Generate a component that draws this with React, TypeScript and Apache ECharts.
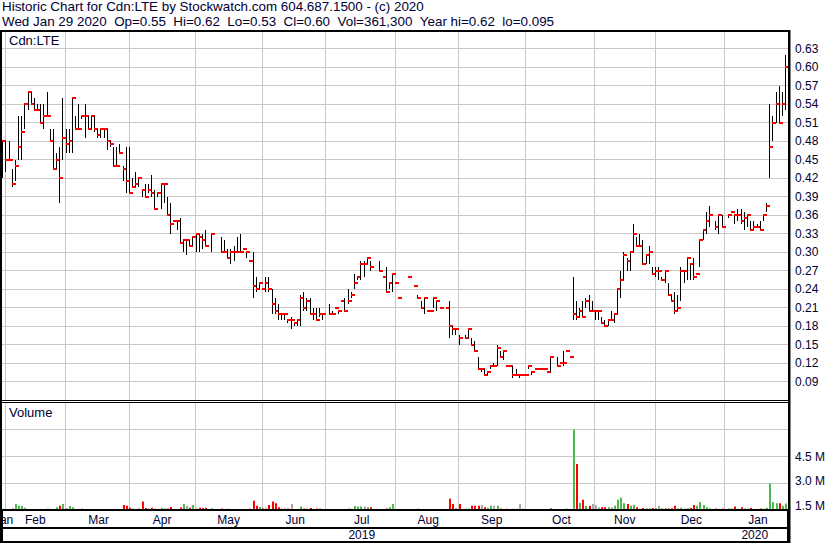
import React, { useEffect, useRef } from 'react';
import * as echarts from 'echarts';

type Bar = [number, number, number] | null; // [high, low, close], null = no trade

// ---- price bars per month (high, low, close) ----
const jan19: Bar[] = [[0.48, 0.42, 0.48]];
const feb19: Bar[] = [
  [0.48, 0.43, 0.45], [0.48, 0.45, 0.45], [0.435, 0.405, 0.41], [0.45, 0.415, 0.44], [0.52, 0.45, 0.47],
  [0.52, 0.45, 0.495], [0.54, 0.5, 0.54], [0.56, 0.53, 0.56], [0.56, 0.54, 0.54], [0.55, 0.53, 0.53],
  [0.54, 0.53, 0.53], [0.54, 0.51, 0.51], [0.54, 0.5, 0.52], [0.56, 0.52, 0.52], [0.5, 0.48, 0.48],
  [0.5, 0.435, 0.435], [0.46, 0.435, 0.45], [0.47, 0.38, 0.42], [0.55, 0.45, 0.485],
];
const mar19: Bar[] = [
  [0.5, 0.46, 0.475], [0.5, 0.46, 0.48], [0.55, 0.46, 0.55], [0.52, 0.5, 0.5], [0.54, 0.5, 0.5],
  [0.52, 0.515, 0.52], [0.54, 0.485, 0.52], [0.52, 0.5, 0.5], [0.52, 0.5, 0.52], [0.52, 0.495, 0.5],
  [0.5, 0.485, 0.49], [0.5, 0.485, 0.5], [0.5, 0.485, 0.5], [0.5, 0.465, 0.48], [0.48, 0.47, 0.475],
  [0.47, 0.44, 0.44], [0.47, 0.44, 0.44], [0.475, 0.46, 0.46], [0.44, 0.415, 0.435], [0.47, 0.395, 0.415],
];
const apr19: Bar[] = [
  [0.47, 0.395, 0.395], [0.42, 0.405, 0.405], [0.43, 0.405, 0.41], [0.42, 0.405, 0.42], [0.4, 0.39, 0.4],
  [0.41, 0.39, 0.39], [0.41, 0.395, 0.4], [0.425, 0.39, 0.395], [0.4, 0.37, 0.37], [0.395, 0.39, 0.395],
  [0.41, 0.37, 0.41], [0.41, 0.38, 0.41], [0.39, 0.36, 0.36], [0.38, 0.33, 0.345], [0.35, 0.35, 0.35],
  [0.35, 0.335, 0.35], [0.355, 0.315, 0.315], [0.32, 0.3, 0.32], [0.32, 0.295, 0.32], [0.32, 0.31, 0.31],
  [0.325, 0.31, 0.325],
];
const may19: Bar[] = [
  [0.33, 0.3, 0.33], [0.33, 0.3, 0.325], [0.33, 0.305, 0.32], [0.335, 0.31, 0.31], null,
  [0.33, 0.3, 0.33], null, null, [0.325, 0.3, 0.3], [0.32, 0.3, 0.3],
  [0.305, 0.29, 0.29], [0.305, 0.28, 0.3], [0.31, 0.285, 0.3], [0.325, 0.3, 0.3], [0.33, 0.3, 0.3],
  [0.305, 0.305, 0.305], [0.3, 0.29, 0.3], [0.285, 0.285, 0.285], [0.3, 0.225, 0.245], [0.26, 0.235, 0.24],
  [0.25, 0.24, 0.25],
];
const jun19: Bar[] = [
  [0.24, 0.24, 0.24], [0.26, 0.235, 0.25], [0.26, 0.235, 0.24], [0.24, 0.2, 0.215], [0.225, 0.2, 0.205],
  [0.215, 0.19, 0.2], [0.2, 0.19, 0.2], [0.2, 0.19, 0.2], [0.19, 0.185, 0.19], [0.195, 0.175, 0.19],
  [0.185, 0.18, 0.185], [0.19, 0.18, 0.19], [0.23, 0.18, 0.225], [0.235, 0.205, 0.21], [0.225, 0.205, 0.22],
  [0.225, 0.2, 0.2], [0.21, 0.19, 0.2], [0.21, 0.19, 0.19], [0.21, 0.195, 0.2], [0.2, 0.19, 0.2],
];
const jul19: Bar[] = [
  null, [0.215, 0.2, 0.2], [0.205, 0.2, 0.2], [0.21, 0.21, 0.21], [0.205, 0.2, 0.205],
  [0.22, 0.22, 0.22], [0.225, 0.205, 0.205], [0.24, 0.215, 0.22], [0.235, 0.225, 0.23], [0.265, 0.24, 0.25],
  [0.26, 0.255, 0.26], [0.285, 0.255, 0.28], [0.285, 0.26, 0.28], [0.29, 0.28, 0.29], [0.285, 0.27, 0.275],
  null, null, [0.285, 0.27, 0.27], [0.26, 0.26, 0.26], [0.275, 0.235, 0.235],
  [0.25, 0.24, 0.25], [0.265, 0.235, 0.265],
];
const aug19: Bar[] = [
  [0.25, 0.25, 0.25], [0.225, 0.225, 0.225], null, null, [0.26, 0.26, 0.26],
  null, [0.245, 0.245, 0.245], [0.23, 0.225, 0.225], [0.22, 0.21, 0.21], [0.225, 0.2, 0.225],
  [0.205, 0.205, 0.205], [0.205, 0.205, 0.205], [0.225, 0.21, 0.225], [0.22, 0.205, 0.22], [0.21, 0.21, 0.21],
  null, [0.21, 0.21, 0.21], [0.22, 0.16, 0.18], [0.18, 0.165, 0.175], [0.175, 0.165, 0.175],
];
const sep19: Bar[] = [
  [0.165, 0.15, 0.16], null, [0.165, 0.16, 0.16], [0.175, 0.16, 0.175], [0.16, 0.15, 0.15],
  [0.155, 0.14, 0.14], [0.13, 0.11, 0.11], [0.11, 0.105, 0.11], [0.11, 0.1, 0.1], [0.105, 0.1, 0.105],
  [0.115, 0.11, 0.115], [0.12, 0.115, 0.115], [0.15, 0.115, 0.145], [0.14, 0.13, 0.13], [0.14, 0.125, 0.14],
  [0.115, 0.115, 0.115], [0.115, 0.115, 0.115], [0.115, 0.095, 0.1], [0.11, 0.1, 0.1], [0.1, 0.095, 0.1],
  [0.1, 0.1, 0.1],
];
const oct19: Bar[] = [
  [0.1, 0.1, 0.1], [0.115, 0.11, 0.115], [0.105, 0.1, 0.105], [0.11, 0.11, 0.11], [0.11, 0.11, 0.11],
  [0.11, 0.11, 0.11], [0.11, 0.11, 0.11], [0.105, 0.105, 0.105], [0.13, 0.105, 0.13], null,
  [0.13, 0.115, 0.115], [0.12, 0.12, 0.12], [0.14, 0.115, 0.12], [0.14, 0.14, 0.14], [0.13, 0.13, 0.13],
  [0.26, 0.19, 0.2], [0.22, 0.19, 0.195], [0.21, 0.195, 0.205], [0.22, 0.195, 0.195], [0.225, 0.21, 0.22],
  [0.23, 0.205, 0.205], [0.22, 0.205, 0.205],
];
const nov19: Bar[] = [
  [0.205, 0.19, 0.205], [0.205, 0.19, 0.205], [0.195, 0.185, 0.185], [0.19, 0.18, 0.18], [0.19, 0.18, 0.19],
  [0.205, 0.19, 0.19], [0.2, 0.185, 0.2], [0.24, 0.2, 0.24], [0.27, 0.225, 0.255], [0.3, 0.255, 0.295],
  [0.29, 0.27, 0.285], [0.3, 0.27, 0.3], [0.345, 0.3, 0.33], [0.325, 0.31, 0.31], [0.33, 0.31, 0.31],
  [0.32, 0.28, 0.28], [0.295, 0.28, 0.295], [0.31, 0.28, 0.3], [0.275, 0.265, 0.265],
];
const dec19: Bar[] = [
  [0.275, 0.26, 0.27], [0.275, 0.255, 0.27], [0.26, 0.255, 0.255], [0.27, 0.25, 0.27], [0.25, 0.23, 0.23],
  [0.23, 0.22, 0.22], [0.235, 0.2, 0.205], [0.23, 0.205, 0.21], [0.275, 0.22, 0.27], [0.27, 0.25, 0.27],
  [0.29, 0.255, 0.29], [0.28, 0.255, 0.28], [0.29, 0.255, 0.26], [0.265, 0.265, 0.265], [0.32, 0.275, 0.32],
  [0.335, 0.32, 0.335], [0.365, 0.33, 0.35], [0.375, 0.34, 0.36], null, [0.35, 0.335, 0.34],
  [0.36, 0.33, 0.36], [0.36, 0.34, 0.34],
];
const jan20: Bar[] = [
  null, [0.36, 0.355, 0.36], [0.365, 0.365, 0.365], [0.36, 0.345, 0.36], [0.37, 0.35, 0.36],
  [0.37, 0.345, 0.35], [0.365, 0.335, 0.355], [0.36, 0.34, 0.36], [0.35, 0.335, 0.335], [0.35, 0.335, 0.34],
  [0.345, 0.34, 0.34], [0.35, 0.335, 0.335], [0.36, 0.35, 0.36], [0.38, 0.365, 0.375], [0.54, 0.42, 0.47],
  [0.52, 0.48, 0.51], [0.56, 0.51, 0.54], [0.57, 0.51, 0.51], [0.56, 0.52, 0.54], [0.62, 0.53, 0.6],
];

// ---- daily volume per month, thousands of shares ----
const volJan19 = [70];
const volFeb19 = [60, 40, 90, 330, 230, 220, 120, 60, 40, 40, 30, 60, 50, 90, 50, 60, 150, 230, 340];
const volMar19 = [80, 220, 150, 60, 50, 80, 60, 40, 50, 40, 40, 50, 40, 60, 40, 60, 40, 60, 280, 230];
const volApr19 = [120, 80, 60, 90, 470, 110, 90, 130, 70, 60, 110, 80, 90, 170, 60, 50, 140, 340, 230, 130, 280];
const volMay19 = [90, 120, 110, 130, 0, 100, 0, 0, 80, 60, 70, 60, 50, 60, 60, 40, 50, 70, 510, 230, 170];
const volJun19 = [90, 100, 280, 470, 380, 150, 80, 100, 90, 340, 60, 60, 190, 90, 80, 110, 60, 80, 100, 60];
const volJul19 = [0, 60, 50, 60, 50, 60, 50, 80, 70, 220, 190, 190, 190, 150, 150, 0, 0, 60, 60, 90, 150, 330];
const volAug19 = [60, 50, 0, 0, 60, 0, 50, 70, 60, 60, 40, 50, 60, 60, 40, 0, 50, 620, 340, 110];
const volSep19 = [340, 0, 80, 90, 230, 230, 230, 280, 150, 110, 230, 230, 230, 80, 60, 70, 60, 70, 90, 340, 80];
const volOct19 = [60, 60, 50, 40, 40, 40, 30, 50, 110, 0, 60, 50, 60, 90, 60, 4470, 2550, 400, 570, 230, 230, 340];
const volNov19 = [260, 150, 150, 150, 150, 150, 230, 570, 680, 380, 340, 230, 280, 150, 90, 110, 80, 90, 110];
const volDec19 = [110, 230, 90, 110, 90, 100, 230, 90, 120, 80, 100, 110, 280, 230, 450, 280, 150, 100, 0, 80, 70, 90];
const volJan20 = [0, 90, 80, 190, 70, 150, 90, 80, 110, 60, 70, 80, 70, 120, 1470, 450, 380, 380, 230, 361.3];

const monthNames = ['Jan', 'Feb', 'Mar', 'Apr', 'May', 'Jun', 'Jul', 'Aug', 'Sep', 'Oct', 'Nov', 'Dec', 'Jan'];
const monthYears = [2019, 2019, 2019, 2019, 2019, 2019, 2019, 2019, 2019, 2019, 2019, 2019, 2020];
const monthBars = [jan19, feb19, mar19, apr19, may19, jun19, jul19, aug19, sep19, oct19, nov19, dec19, jan20];
const monthVols = [volJan19, volFeb19, volMar19, volApr19, volMay19, volJun19, volJul19, volAug19, volSep19, volOct19, volNov19, volDec19, volJan20];

const priceTicks = { min: 0.06, max: 0.66, step: 0.03 };
const volLabelValues = [1.5, 3.0, 4.5];

const headerLine1 = 'Historic Chart for Cdn:LTE by Stockwatch.com 604.687.1500 - (c) 2020';
const headerLine2 = 'Wed Jan 29 2020 \u00a0Op=0.55 \u00a0Hi=0.62 \u00a0Lo=0.53 \u00a0Cl=0.60 \u00a0Vol=361,300 \u00a0Year hi=0.62 \u00a0lo=0.095';

const FONT = 'Arial, "Liberation Sans", sans-serif';
const TEXT = '#000033';
const GRID = '#c8c8c8';

// ---- build category axis + series data ----
const categories: string[] = [];
const priceData: number[][] = [];
const volData: number[][] = [];
const monthStart = new Set<number>();
const monthLabel = new Map<string, string>();
const yearLabel = new Map<string, string>();
let yearBoundary = 0;
{
  let idx = 0;
  let prevClose: number | null = null;
  const yearStart: Record<number, number> = {};
  const yearCount: Record<number, number> = {};
  monthBars.forEach((bars, m) => {
    const y = monthYears[m];
    if (yearStart[y] === undefined) yearStart[y] = idx;
    yearCount[y] = (yearCount[y] || 0) + bars.length;
    monthStart.add(idx);
    const mid = idx + Math.round((bars.length - 1) / 2);
    bars.forEach((b, j) => {
      const cat = `${monthNames[m]} ${y} #${j + 1}`;
      categories.push(cat);
      if (idx + j === mid) monthLabel.set(cat, monthNames[m]);
      if (b) {
        priceData.push([idx + j, b[0], b[1], b[2]]);
        const dir = prevClose === null ? 0 : b[2] > prevClose ? 1 : b[2] < prevClose ? -1 : 0;
        volData.push([idx + j, monthVols[m][j] / 1000, dir]);
        prevClose = b[2];
      }
    });
    idx += bars.length;
  });
  Object.keys(yearStart).forEach((k) => {
    const y = Number(k);
    const mid = yearStart[y] + Math.floor((yearCount[y] - 1) / 2);
    yearLabel.set(categories[mid], String(y));
  });
  yearBoundary = yearStart[2020];
}

export default function App() {
  const ref = useRef<HTMLDivElement>(null);
  useEffect(() => {
    document.body.style.margin = '0';
    if (!ref.current) return;
    const chart = echarts.init(ref.current, undefined, { renderer: 'svg' });

    const splitX = {
      show: true,
      interval: (i: number) => i > 0 && monthStart.has(i),
      lineStyle: { color: GRID, width: 1 },
    };

    const option: any = {
      animation: false,
      backgroundColor: '#ffffff',
      grid: [
        { left: 2, right: 42, top: 30, height: 370, outerBoundsMode: 'none' },
        { left: 2, right: 42, top: 402, height: 108, outerBoundsMode: 'none' },
      ],
      xAxis: [
        {
          type: 'category', gridIndex: 0, data: categories, boundaryGap: true,
          axisLine: { show: false }, axisTick: { show: false }, axisLabel: { show: false },
          splitLine: splitX,
        },
        {
          type: 'category', gridIndex: 1, data: categories, boundaryGap: true, position: 'bottom',
          axisLine: { show: false }, axisTick: { show: false },
          axisLabel: {
            show: true,
            interval: (_i: number, v: string) => monthLabel.has(v),
            formatter: (v: string) => monthLabel.get(v) || '',
            alignMinLabel: 'center', alignMaxLabel: 'center', hideOverlap: false,
            margin: 4, color: TEXT, fontSize: 12, fontFamily: FONT,
          },
          splitLine: splitX,
        },
        {
          type: 'category', gridIndex: 1, data: categories, boundaryGap: true, position: 'bottom', offset: 0,
          axisLine: { show: false },
          axisTick: {
            show: true, interval: (i: number) => i === yearBoundary, length: 31,
            lineStyle: { color: '#000', width: 2 },
          },
          axisLabel: {
            show: true,
            interval: (_i: number, v: string) => yearLabel.has(v),
            formatter: (v: string) => yearLabel.get(v) || '',
            margin: 19, color: TEXT, fontSize: 12, fontFamily: FONT,
          },
          splitLine: { show: false },
        },
      ],
      yAxis: [
        {
          type: 'value', gridIndex: 0, position: 'right',
          min: priceTicks.min, max: priceTicks.max, interval: priceTicks.step,
          axisLine: { show: false }, axisTick: { show: false },
          axisLabel: {
            formatter: (v: number) => v.toFixed(2), showMinLabel: false, showMaxLabel: false,
            margin: 7, color: TEXT, fontSize: 12, fontFamily: FONT,
          },
          splitLine: { show: true, lineStyle: { color: GRID, width: 1 } },
        },
        {
          type: 'value', gridIndex: 1, position: 'left', min: 0, max: 6, interval: 1.5,
          axisLine: { show: false }, axisTick: { show: false }, axisLabel: { show: false },
          splitLine: { show: true, lineStyle: { color: GRID, width: 1 } },
        },
        {
          type: 'value', gridIndex: 1, position: 'right', min: 1.255, max: 7.867,
          axisLine: { show: false }, axisTick: { show: false }, splitLine: { show: false },
          axisLabel: {
            customValues: volLabelValues,
            formatter: (v: number) => v.toFixed(1) + ' M',
            margin: 7, color: TEXT, fontSize: 12, fontFamily: FONT,
          },
        },
      ],
      series: [
        {
          type: 'custom', name: 'Price', xAxisIndex: 0, yAxisIndex: 0, data: priceData,
          encode: { x: 0, y: [1, 2, 3] }, clip: true, z: 5,
          renderItem: (_p: any, api: any) => {
            const i = api.value(0);
            const hi = api.value(1), lo = api.value(2), cl = api.value(3);
            const bw = api.size([1, 0])[0];
            const top = api.coord([i, hi]);
            const bot = api.coord([i, lo]);
            const cp = api.coord([i, cl]);
            const x = Math.floor(top[0] - bw / 2 + 0.7) + 0.5;
            const y1 = Math.round(top[1]);
            const y2 = Math.round(bot[1]);
            const children: any[] = [];
            if (y2 - y1 >= 1) {
              children.push({ type: 'line', shape: { x1: x, y1, x2: x, y2 }, style: { stroke: '#000000', lineWidth: 1 } });
            }
            const cy = Math.round(cp[1]);
            children.push({ type: 'rect', shape: { x: x - 0.5, y: cy - 1, width: 4, height: 2 }, style: { fill: '#ff0000' } });
            return { type: 'group', children };
          },
        },
        {
          type: 'custom', name: 'Volume', xAxisIndex: 1, yAxisIndex: 1, data: volData,
          encode: { x: 0, y: 1 }, clip: true, z: 5,
          renderItem: (_p: any, api: any) => {
            const i = api.value(0);
            const v = api.value(1);
            const dir = api.value(2);
            if (!v) return null;
            const bw = api.size([1, 0])[0];
            const p = api.coord([i, v]);
            const b = api.coord([i, 0]);
            const x = Math.floor(p[0] - bw / 2 + 0.7);
            const color = dir > 0 ? '#4cba4c' : dir < 0 ? '#ff0000' : '#a9a9a9';
            return { type: 'rect', shape: { x, y: p[1], width: 2, height: b[1] - p[1] }, style: { fill: color } };
          },
        },
      ],
      graphic: [
        { type: 'text', left: 2, top: 0, z: 100, style: { text: headerLine1, fill: TEXT, font: `13.4px ${FONT}` } },
        { type: 'text', left: 2, top: 14.5, z: 100, style: { text: headerLine2, fill: TEXT, font: `13.4px ${FONT}` } },
        { type: 'text', left: 9, top: 34, z: 100, style: { text: 'Cdn:LTE', fill: TEXT, font: `13px ${FONT}` } },
        { type: 'text', left: 9, top: 406, z: 100, style: { text: 'Volume', fill: TEXT, font: `13px ${FONT}` } },
        { type: 'rect', z: 100, shape: { x: 0, y: 30, width: 790, height: 2 }, style: { fill: '#000' } },
        { type: 'rect', z: 100, shape: { x: 2, y: 400, width: 786, height: 1 }, style: { fill: '#000' } },
        { type: 'rect', z: 100, shape: { x: 2, y: 402, width: 786, height: 1 }, style: { fill: '#000' } },
        { type: 'rect', z: 100, shape: { x: 0, y: 509, width: 790, height: 2 }, style: { fill: '#000' } },
        { type: 'rect', z: 100, shape: { x: 0, y: 527, width: 790, height: 2 }, style: { fill: '#000' } },
        { type: 'rect', z: 100, shape: { x: 0, y: 541, width: 790, height: 2 }, style: { fill: '#000' } },
        { type: 'rect', z: 100, shape: { x: 0, y: 30, width: 2, height: 513 }, style: { fill: '#000' } },
        { type: 'rect', z: 100, shape: { x: 788, y: 30, width: 2.5, height: 513 }, style: { fill: '#000' } },
      ],
    };
    chart.setOption(option);
    return () => chart.dispose();
  }, []);
  return <div ref={ref} style={{ width: 830, height: 543 }} />;
}
